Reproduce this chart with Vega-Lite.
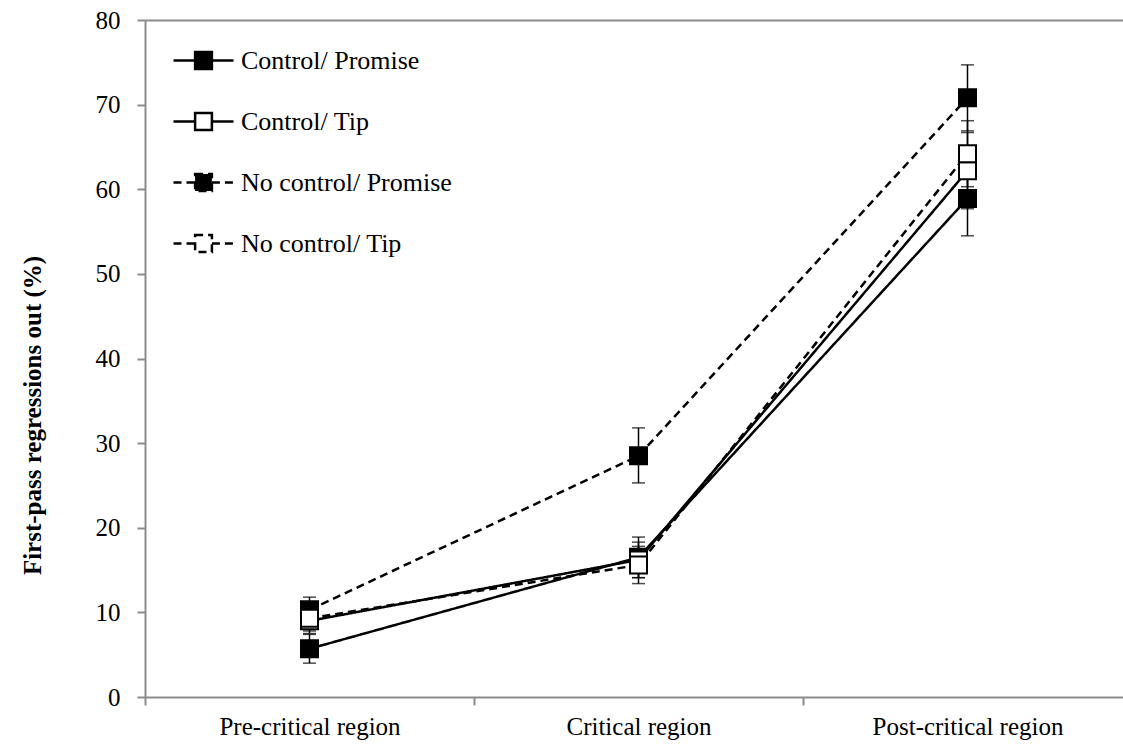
{
  "$schema": "https://vega.github.io/schema/vega-lite/v6.json",
  "autosize": "none",
  "padding": {"left": 145, "top": 20, "right": 0, "bottom": 49},
  "width": 978,
  "height": 677,
  "background": "white",
  "config": {
    "view": {"stroke": null},
    "font": "Liberation Serif"
  },
  "data": {
    "values": [
      {"region": "Pre-critical region", "series": "Control/ Promise", "value": 5.7, "lo": 4.0, "hi": 7.4},
      {"region": "Pre-critical region", "series": "Control/ Tip", "value": 9.0, "lo": 7.5, "hi": 10.5},
      {"region": "Pre-critical region", "series": "No control/ Promise", "value": 10.3, "lo": 8.8, "hi": 11.8},
      {"region": "Pre-critical region", "series": "No control/ Tip", "value": 9.3, "lo": 7.8, "hi": 10.8},
      {"region": "Critical region", "series": "Control/ Promise", "value": 16.5, "lo": 14.1, "hi": 18.9},
      {"region": "Critical region", "series": "Control/ Tip", "value": 16.2, "lo": 14.1, "hi": 18.3},
      {"region": "Critical region", "series": "No control/ Promise", "value": 28.5, "lo": 25.3, "hi": 31.8},
      {"region": "Critical region", "series": "No control/ Tip", "value": 15.6, "lo": 13.4, "hi": 17.8},
      {"region": "Post-critical region", "series": "Control/ Promise", "value": 58.9, "lo": 54.5, "hi": 63.3},
      {"region": "Post-critical region", "series": "Control/ Tip", "value": 62.2, "lo": 57.7, "hi": 66.7},
      {"region": "Post-critical region", "series": "No control/ Promise", "value": 70.8, "lo": 66.9, "hi": 74.7},
      {"region": "Post-critical region", "series": "No control/ Tip", "value": 64.2, "lo": 60.3, "hi": 68.1}
    ]
  },
  "encoding": {
    "x": {
      "field": "region",
      "type": "nominal",
      "sort": ["Pre-critical region", "Critical region", "Post-critical region"],
      "scale": {"range": [0, 987], "paddingInner": 0, "paddingOuter": 0},
      "axis": {
        "title": null,
        "labelAngle": 0,
        "tickBand": "extent",
        "domainColor": "#8c8c8c",
        "domainWidth": 2,
        "tickColor": "#8c8c8c",
        "tickWidth": 2,
        "tickSize": 8,
        "labelFont": "Liberation Serif",
        "labelFontSize": 25,
        "labelColor": "black",
        "labelPadding": 9,
        "labelLimit": 500
      }
    }
  },
  "layer": [
    {
      "mark": {"type": "line", "color": "black", "strokeWidth": 2.5},
      "encoding": {
        "y": {
          "field": "value",
          "type": "quantitative",
          "scale": {"domain": [0, 80]},
          "axis": {
            "values": [0, 10, 20, 30, 40, 50, 60, 70, 80],
            "title": "First-pass regressions out (%)",
            "titleFont": "Liberation Serif",
            "titleFontSize": 25,
            "titleFontWeight": "bold",
            "titleColor": "black",
            "titlePadding": 50,
            "titleY": 395,
            "labelFont": "Liberation Serif",
            "labelFontSize": 25,
            "labelColor": "black",
            "labelPadding": 17,
            "domainColor": "#8c8c8c",
            "domainWidth": 2,
            "tickColor": "#8c8c8c",
            "tickWidth": 2,
            "tickSize": 8,
            "grid": true,
            "gridColor": "#8c8c8c",
            "gridWidth": 2,
            "gridOpacity": {"condition": {"test": "datum.value == 80", "value": 1}, "value": 0}
          }
        },
        "detail": {"field": "series"},
        "strokeDash": {
          "field": "series",
          "type": "nominal",
          "scale": {
            "domain": ["Control/ Promise", "Control/ Tip", "No control/ Promise", "No control/ Tip"],
            "range": [[1, 0], [1, 0], [8, 5], [8, 5]]
          },
          "legend": {
            "title": null,
            "orient": "none",
            "legendX": 27,
            "legendY": 9,
            "padding": 0,
            "rowPadding": 16,
            "symbolType": "M-1,0H-0.28M0.28,0H1M-0.28,-0.28H0.28V0.28H-0.28Z",
            "symbolSize": 3600,
            "symbolStrokeColor": "black",
            "symbolStrokeWidth": 2.5,
            "labelFont": "Liberation Serif",
            "labelFontSize": 26,
            "labelColor": "black",
            "labelOffset": 6,
            "labelLimit": 400
          }
        }
      }
    },
    {
      "mark": {"type": "rule", "color": "black", "strokeWidth": 1.5},
      "encoding": {
        "y": {"field": "lo", "type": "quantitative"},
        "y2": {"field": "hi"}
      }
    },
    {
      "mark": {"type": "tick", "color": "black", "thickness": 1.5, "size": 13, "orient": "horizontal"},
      "encoding": {"y": {"field": "lo", "type": "quantitative"}}
    },
    {
      "mark": {"type": "tick", "color": "black", "thickness": 1.5, "size": 13, "orient": "horizontal"},
      "encoding": {"y": {"field": "hi", "type": "quantitative"}}
    },
    {
      "mark": {"type": "point", "shape": "square", "filled": true, "stroke": "black", "strokeWidth": 2, "size": 289, "opacity": 1},
      "encoding": {
        "y": {"field": "value", "type": "quantitative"},
        "fill": {
          "field": "series",
          "type": "nominal",
          "scale": {
            "domain": ["Control/ Promise", "Control/ Tip", "No control/ Promise", "No control/ Tip"],
            "range": ["black", "white", "black", "white"]
          },
          "legend": {
            "title": null,
            "orient": "none",
            "legendX": 27,
            "legendY": 9,
            "padding": 0,
            "rowPadding": 16,
            "symbolType": "M-1,0H-0.28M0.28,0H1M-0.28,-0.28H0.28V0.28H-0.28Z",
            "symbolSize": 3600,
            "symbolStrokeColor": "black",
            "symbolStrokeWidth": 2.5,
            "labelFont": "Liberation Serif",
            "labelFontSize": 26,
            "labelColor": "black",
            "labelOffset": 6,
            "labelLimit": 400
          }
        }
      }
    }
  ]
}
